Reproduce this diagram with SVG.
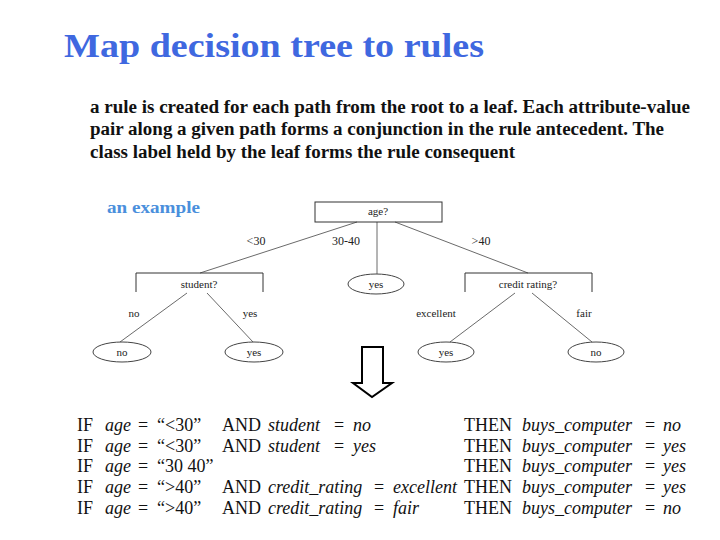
<svg xmlns="http://www.w3.org/2000/svg" width="720" height="540" viewBox="0 0 720 540">
<style>
.title{font-family:"Liberation Serif",serif;font-weight:bold;font-size:34px;fill:#3f68e0}
.para{font-family:"Liberation Serif",serif;font-weight:bold;font-size:18px;fill:#111}
.ex{font-family:"Liberation Serif",serif;font-weight:bold;font-size:17px;fill:#4a8fdc}
.node{fill:none;stroke:#333;stroke-width:1}
.leaf{fill:#fff;stroke:#444;stroke-width:1}
.t{font-family:"Liberation Serif",serif;font-size:11px;fill:#222;text-anchor:middle}
.el{font-family:"Liberation Serif",serif;font-size:12px;fill:#222;text-anchor:middle}
.edge{stroke:#444;stroke-width:0.8;fill:none}
.r{font-family:"Liberation Serif",serif;font-size:18px;fill:#111}
.ri{font-family:"Liberation Serif",serif;font-size:18px;font-style:italic;fill:#111}
</style>
<rect width="720" height="540" fill="#fff"/>
<text class="title" x="64" y="57" textLength="420" lengthAdjust="spacingAndGlyphs">Map decision tree to rules</text>
<text class="para" x="90" y="113" textLength="600" lengthAdjust="spacingAndGlyphs">a rule is created for each path from the root to a leaf. Each attribute-value</text>
<text class="para" x="90" y="135" textLength="574" lengthAdjust="spacingAndGlyphs">pair along a given path forms a conjunction in the rule antecedent. The</text>
<text class="para" x="90" y="158" textLength="425" lengthAdjust="spacingAndGlyphs">class label held by the leaf forms the rule consequent</text>
<text class="ex" x="107" y="213" textLength="93" lengthAdjust="spacingAndGlyphs">an example</text>

<g id="connectors">
<line class="edge" x1="357" y1="222" x2="200" y2="273"/>
<line class="edge" x1="377" y1="222" x2="377" y2="274"/>
<line class="edge" x1="395" y1="222" x2="528" y2="273"/>
<line class="edge" x1="187" y1="293" x2="120" y2="342"/>
<line class="edge" x1="207" y1="293" x2="253" y2="342"/>
<line class="edge" x1="515" y1="293" x2="450" y2="342"/>
<line class="edge" x1="532" y1="293" x2="592" y2="342"/>
<text class="el" x="256" y="245">&lt;30</text>
<text class="el" x="346" y="245">30-40</text>
<text class="el" x="481" y="245">&gt;40</text>
<text class="t" x="134" y="317">no</text>
<text class="t" x="250" y="317">yes</text>
<text class="t" x="436" y="317">excellent</text>
<text class="t" x="584" y="317">fair</text>
</g>

<g id="node-age">
<rect class="node" x="315" y="202" width="127" height="20"/>
<text class="t" x="378" y="215">age?</text>
</g>
<g id="node-student">
<path class="node" d="M136,292 V273 H263 V292"/>
<text class="t" x="199" y="288">student?</text>
</g>
<g id="node-credit">
<path class="node" d="M465,292 V273 H592 V292"/>
<text class="t" x="528" y="288">credit  rating?</text>
</g>
<g id="leaf-yes-mid">
<ellipse class="leaf" cx="376" cy="284" rx="28" ry="10"/>
<text class="t" x="376" y="288">yes</text>
</g>
<g id="leaf-no-1">
<ellipse class="leaf" cx="122" cy="352" rx="29" ry="10"/>
<text class="t" x="122" y="356">no</text>
</g>
<g id="leaf-yes-1">
<ellipse class="leaf" cx="254" cy="352" rx="29" ry="10"/>
<text class="t" x="254" y="356">yes</text>
</g>
<g id="leaf-yes-2">
<ellipse class="leaf" cx="446" cy="352" rx="28" ry="10"/>
<text class="t" x="446" y="356">yes</text>
</g>
<g id="leaf-no-2">
<ellipse class="leaf" cx="596" cy="352" rx="28" ry="10"/>
<text class="t" x="596" y="356">no</text>
</g>

<g id="arrow">
<path d="M362,347 H383 V383 H392 L372,397 L353,383 H362 Z" fill="#fff" stroke="#000" stroke-width="2"/>
</g>

<g id="rules">
<g>
<text class="r" x="77" y="431">IF</text><text class="ri" x="105" y="431">age</text><text class="r" x="138" y="431">=</text><text class="r" x="157" y="431">“&lt;30”</text>
<text class="r" x="222" y="431">AND</text><text class="ri" x="268" y="431">student</text><text class="r" x="334" y="431">=</text><text class="ri" x="353" y="431">no</text>
<text class="r" x="464" y="431">THEN</text><text class="ri" x="522" y="431">buys_computer</text><text class="r" x="645" y="431">=</text><text class="ri" x="663" y="431">no</text>
</g>
<g>
<text class="r" x="77" y="452">IF</text><text class="ri" x="105" y="452">age</text><text class="r" x="138" y="452">=</text><text class="r" x="157" y="452">“&lt;30”</text>
<text class="r" x="222" y="452">AND</text><text class="ri" x="268" y="452">student</text><text class="r" x="334" y="452">=</text><text class="ri" x="353" y="452">yes</text>
<text class="r" x="464" y="452">THEN</text><text class="ri" x="522" y="452">buys_computer</text><text class="r" x="645" y="452">=</text><text class="ri" x="663" y="452">yes</text>
</g>
<g>
<text class="r" x="77" y="472">IF</text><text class="ri" x="105" y="472">age</text><text class="r" x="138" y="472">=</text><text class="r" x="157" y="472">“30 40”</text>
<text class="r" x="464" y="472">THEN</text><text class="ri" x="522" y="472">buys_computer</text><text class="r" x="645" y="472">=</text><text class="ri" x="663" y="472">yes</text>
</g>
<g>
<text class="r" x="77" y="493">IF</text><text class="ri" x="105" y="493">age</text><text class="r" x="138" y="493">=</text><text class="r" x="157" y="493">“&gt;40”</text>
<text class="r" x="222" y="493">AND</text><text class="ri" x="268" y="493">credit_rating</text><text class="r" x="374" y="493">=</text><text class="ri" x="393" y="493">excellent</text>
<text class="r" x="464" y="493">THEN</text><text class="ri" x="522" y="493">buys_computer</text><text class="r" x="645" y="493">=</text><text class="ri" x="663" y="493">yes</text>
</g>
<g>
<text class="r" x="77" y="514">IF</text><text class="ri" x="105" y="514">age</text><text class="r" x="138" y="514">=</text><text class="r" x="157" y="514">“&gt;40”</text>
<text class="r" x="222" y="514">AND</text><text class="ri" x="268" y="514">credit_rating</text><text class="r" x="374" y="514">=</text><text class="ri" x="393" y="514">fair</text>
<text class="r" x="464" y="514">THEN</text><text class="ri" x="522" y="514">buys_computer</text><text class="r" x="645" y="514">=</text><text class="ri" x="663" y="514">no</text>
</g>
</g>
</svg>
